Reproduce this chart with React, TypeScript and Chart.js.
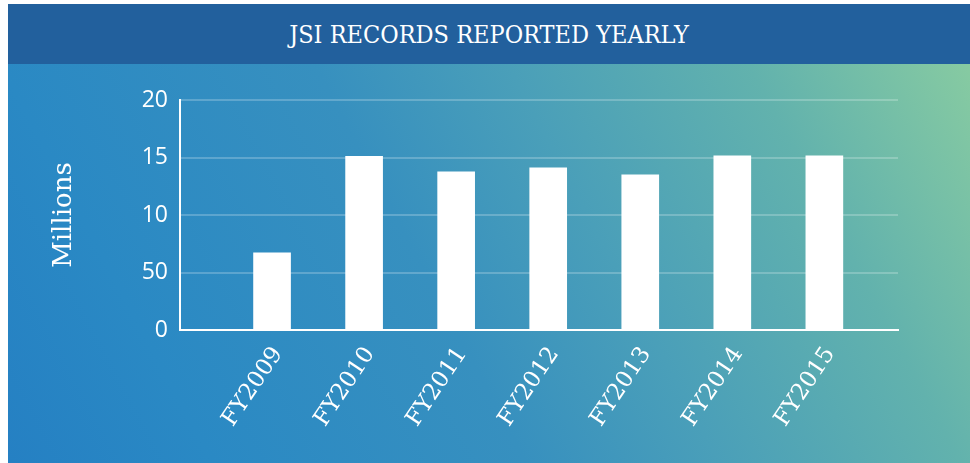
import React, { useEffect, useRef } from "react";
import { Chart, registerables } from "chart.js";

Chart.register(...registerables);

const chartTitle = "JSI RECORDS REPORTED YEARLY";
const yAxisTitle = "Millions";
const categories = ["FY2009", "FY2010", "FY2011", "FY2012", "FY2013", "FY2014", "FY2015"];
const recordsMillions = [6.7, 15.1, 13.75, 14.1, 13.5, 15.15, 15.15];
const yTickLabels = ["0", "50", "10", "15", "20"];

const CANVAS_W = 962;
const CANVAS_H = 399;

export default function App() {
  const ref = useRef<HTMLCanvasElement | null>(null);

  useEffect(() => {
    if (!ref.current) return;
    const chart = new Chart(ref.current, {
      type: "bar",
      data: {
        datasets: [
          {
            data: categories.map((c, i) => ({ x: i + 1, y: recordsMillions[i] })),
            backgroundColor: "#ffffff",
            borderWidth: 0,
            barThickness: 37,
          },
        ],
      },
      options: {
        animation: false,
        responsive: false,
        layout: { padding: { top: 36, right: 72, left: 0, bottom: 0 } },
        plugins: { legend: { display: false }, tooltip: { enabled: false }, title: { display: false } },
        scales: {
          x: {
            type: "linear",
            min: 0,
            max: 7.8,
            offset: false,
            grid: { display: false, drawTicks: false, offset: false },
            border: { display: true, color: "#ffffff", width: 2 },
            afterFit: (s: any) => {
              s.height = 133;
            },
            ticks: {
              stepSize: 1,
              includeBounds: false,
              autoSkip: false,
              minRotation: 56,
              maxRotation: 56,
              padding: 12,
              labelOffset: 6,
              color: "#ffffff",
              font: { family: "'DejaVu Serif'", size: 23 },
              callback: (v: any) => {
                const idx = Math.round(Number(v)) - 1;
                return Number.isInteger(Number(v)) && categories[idx] ? categories[idx] : "";
              },
            },
          },
          y: {
            min: 0,
            max: 20,
            grid: { display: true, drawTicks: false, color: "rgba(255,255,255,0.22)", lineWidth: 2 },
            border: { display: true, color: "#ffffff", width: 2 },
            afterFit: (s: any) => {
              s.width = 172;
            },
            title: {
              display: true,
              text: yAxisTitle,
              color: "#ffffff",
              font: { family: "'DejaVu Serif'", size: 26 },
              padding: { top: 41, bottom: 0 },
            },
            ticks: {
              stepSize: 5,
              padding: 12,
              color: "#ffffff",
              font: { family: "'Open Sans'", size: 23 },
              callback: (v: any, i: number) => yTickLabels[i] ?? String(v),
            },
          },
        },
      },
    });
    return () => chart.destroy();
  }, []);

  return (
    <div
      style={{
        position: "fixed",
        left: 8,
        top: 4,
        right: 0,
        bottom: 0,
        overflow: "hidden",
        background:
          "linear-gradient(62deg, #2580c3 0%, #2a89c4 17%, #3790bf 43%, #4a9fb9 59%, #62b2ad 79%, #8ccea0 100%)",
      }}
    >
      <div
        style={{
          height: 60,
          background: "#22609d",
          color: "#ffffff",
          display: "flex",
          alignItems: "center",
          justifyContent: "center",
          fontFamily: "'DejaVu Serif Condensed', 'DejaVu Serif'",
          fontStretch: "condensed",
          fontSize: 25,
          letterSpacing: 0,
        }}
      >
        {chartTitle}
      </div>
      <canvas ref={ref} width={CANVAS_W} height={CANVAS_H} style={{ display: "block" }} />
    </div>
  );
}
